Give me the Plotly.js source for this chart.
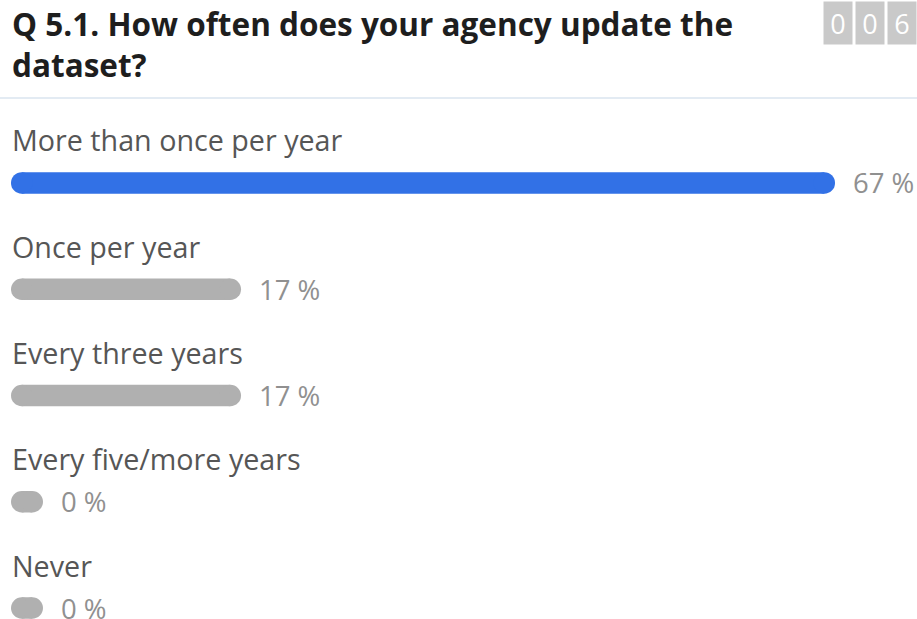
<!DOCTYPE html>
<html>
<head>
<meta charset="utf-8">
<script src="https://cdn.plot.ly/plotly-3.0.1.min.js"></script>
<style>
html,body{margin:0;padding:0;background:#fff;}
#chart{width:917px;height:619px;}
</style>
</head>
<body>
<div id="chart"></div>
<script>
// ---- data ----
const questionTitle = "Q 5.1. How often does your agency update the<br>dataset?";
const categories = ["More than once per year", "Once per year", "Every three years", "Every five/more years", "Never"];
const percentValues = [66.67, 16.67, 16.67, 0, 0];
const percentLabels = ["67 %", "17 %", "17 %", "0 %", "0 %"];
const responseDigits = ["0", "0", "6"];
const barColors = ["#3271e6", "#b0b0b0", "#b0b0b0", "#b0b0b0", "#b0b0b0"];

// ---- style constants ----
const BAR_H = 21.5;      // pill thickness (px)
const MIN_LEN = 0.884;   // minimal inner length of a pill, in percent units
const FONT = "'Open Sans', 'Noto Sans', sans-serif";

const traces = categories.map((c, i) => ({
  type: "scatter",
  mode: "lines+markers",
  x: [0, percentValues[i] + MIN_LEN],
  y: [c, c],
  line: {color: barColors[i], width: BAR_H},
  marker: {color: barColors[i], size: BAR_H, symbol: "circle", line: {width: 0}},
  hoverinfo: "skip",
  showlegend: false
}));

const annotations = [];
categories.forEach((c, i) => {
  annotations.push({
    xref: "paper", yref: "y", x: 0, y: c, xanchor: "left", yanchor: "middle",
    xshift: 10, yshift: 43, showarrow: false, text: c,
    font: {family: FONT, size: 28.7, color: "#565656"}
  });
  annotations.push({
    xref: "x", yref: "y", x: percentValues[i] + MIN_LEN, y: c, xanchor: "left", yanchor: "middle",
    xshift: BAR_H / 2 + 16, showarrow: false, text: percentLabels[i],
    font: {family: FONT, size: 27.5, color: "#909090"}
  });
});
responseDigits.forEach((d, j) => {
  annotations.push({
    xref: "paper", yref: "paper", x: (838 + 32.2 * j) / 917, y: 1 - 23 / 619,
    xanchor: "center", yanchor: "middle", showarrow: false, text: d,
    width: 28, height: 42, bgcolor: "#c9c9c9", borderpad: 0,
    font: {family: FONT, size: 27, color: "#ffffff"}
  });
});

const layout = {
  width: 917, height: 619,
  margin: {l: 0, r: 0, t: 0, b: 0},
  paper_bgcolor: "#ffffff", plot_bgcolor: "#ffffff",
  title: {
    text: questionTitle, xref: "container", yref: "container",
    x: 12 / 917, y: 1 - 36 / 619, xanchor: "left", yanchor: "top",
    font: {family: FONT, size: 31.5, weight: 700, color: "#1e1e1e"}
  },
  xaxis: {range: [-1.831, 75.36], visible: false, fixedrange: true},
  yaxis: {type: "category", categoryarray: categories, range: [4.1035, -1.722], visible: false, fixedrange: true},
  shapes: [{type: "line", xref: "paper", yref: "paper", x0: 0, x1: 1, y0: 1 - 98 / 619, y1: 1 - 98 / 619,
            line: {color: "#e3ebf3", width: 2}}],
  annotations: annotations,
  showlegend: false
};

Plotly.newPlot("chart", traces, layout, {staticPlot: true, displayModeBar: false});
</script>
</body>
</html>
